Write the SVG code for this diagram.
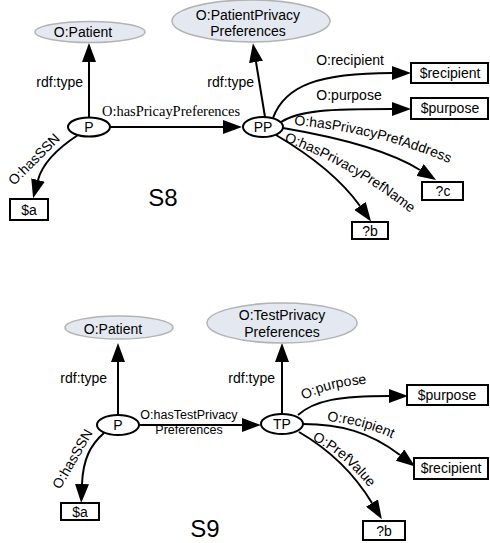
<svg xmlns="http://www.w3.org/2000/svg" width="490" height="543" viewBox="0 0 490 543">
<defs>
<marker id="arr" markerUnits="userSpaceOnUse" markerWidth="19" markerHeight="14" refX="0" refY="7" orient="auto" viewBox="0 0 19 14">
<path d="M0,0 L19,7 L0,14 z" fill="#000"/>
</marker>
<path id="tpAddr" d="M 294 125 Q 380 132 458 167"/>
<path id="tpName" d="M 284 141 Q 355 168 413 215"/>
<path id="tpPurp" d="M 304 400 Q 330 385 378 383"/>
<path id="tpRec" d="M 327 421 Q 365 424 402 443"/>
<path id="tpVal" d="M 312 440 Q 345 455 375 495"/>
</defs>
<style>
text{font-family:"Liberation Sans",Arial,sans-serif;font-size:14px;fill:#000}
.c{text-anchor:middle}
.e{text-anchor:end}
.cls{fill:#e4e9f1;stroke:#b3b3b3;stroke-width:1.5}
.res{fill:#fff;stroke:#000;stroke-width:2}
.box{fill:#fff;stroke:#000;stroke-width:2}
.edge{fill:none;stroke:#000;stroke-width:2;marker-end:url(#arr)}
.serif{font-family:"Liberation Serif","Times New Roman",serif}
.big{font-size:24px}
.sm{font-size:12.5px}
</style>
<rect width="490" height="543" fill="#fff"/>

<g id="connectors">
<path class="edge" d="M 89 117 L 89 62"/>
<path class="edge" d="M 110 127 L 223 127"/>
<path class="edge" d="M 78 135 C 55 150 42 165 38 180"/>
<path class="edge" d="M 265 117 L 256 62"/>
<path class="edge" d="M 273 118 C 285 85 320 73 392 73"/>
<path class="edge" d="M 281 122 C 300 110 330 109 392 109"/>
<path class="edge" d="M 283 128 C 330 136 385 148 420 170"/>
<path class="edge" d="M 276 135 C 310 155 340 178 360 206"/>

<path class="edge" d="M 118 415 L 118 362"/>
<path class="edge" d="M 139 425 L 242 425"/>
<path class="edge" d="M 104 433 C 90 445 83 460 82 484"/>
<path class="edge" d="M 282 414 L 282 362"/>
<path class="edge" d="M 298 415 C 315 400 340 396 389 396"/>
<path class="edge" d="M 303 424 C 340 424 370 432 400 455"/>
<path class="edge" d="M 299 432 C 330 450 355 475 372 503"/>
</g>

<g id="edge-labels">
<text class="e" x="83" y="87">rdf:type</text>
<text class="serif" x="102" y="116" textLength="138" lengthAdjust="spacingAndGlyphs">O:hasPricayPreferences</text>
<text x="14" y="186" transform="rotate(-45 14 186)">O:hasSSN</text>
<text class="e" x="254" y="87">rdf:type</text>
<text class="c" x="350" y="65">O:recipient</text>
<text class="c" x="349" y="100">O:purpose</text>
<text><textPath href="#tpAddr">O:hasPrivacyPrefAddress</textPath></text>
<text><textPath href="#tpName">O:hasPrivacyPrefName</textPath></text>

<text class="e" x="107" y="383">rdf:type</text>
<text class="c sm" x="189" y="419">O:hasTestPrivacy</text>
<text class="c sm" x="189" y="434">Preferences</text>
<text x="60" y="490" transform="rotate(-60 60 490)">O:hasSSN</text>
<text class="e" x="275" y="383">rdf:type</text>
<text><textPath href="#tpPurp">O:purpose</textPath></text>
<text><textPath href="#tpRec">O:recipient</textPath></text>
<text><textPath href="#tpVal">O:PrefValue</textPath></text>
</g>

<g id="s8-patient-class">
<ellipse class="cls" cx="90" cy="32" rx="55" ry="10.5"/>
<text class="c" x="83" y="37">O:Patient</text>
</g>
<g id="s8-ppp-class">
<ellipse class="cls" cx="251" cy="21" rx="79" ry="21"/>
<text class="c" x="248" y="20">O:PatientPrivacy</text>
<text class="c" x="248" y="36">Preferences</text>
</g>
<g id="s8-P">
<ellipse class="res" cx="89" cy="127" rx="21" ry="9.5"/>
<text class="c" x="89" y="132">P</text>
</g>
<g id="s8-PP">
<ellipse class="res" cx="263" cy="127" rx="20" ry="10"/>
<text class="c" x="263" y="132">PP</text>
</g>
<g id="s8-a">
<rect class="box" x="10" y="199" width="38" height="21"/>
<text class="c" x="29" y="215">$a</text>
</g>
<g id="s8-recipient">
<rect class="box" x="411" y="63" width="77" height="20"/>
<text class="c" x="450" y="78">$recipient</text>
</g>
<g id="s8-purpose">
<rect class="box" x="411" y="98" width="77" height="21"/>
<text class="c" x="450" y="113">$purpose</text>
</g>
<g id="s8-c">
<rect class="box" x="422" y="182" width="41" height="18"/>
<text class="c" x="443" y="196">?c</text>
</g>
<g id="s8-b">
<rect class="box" x="352" y="222" width="36" height="17"/>
<text class="c" x="370" y="236">?b</text>
</g>
<g id="s8-title">
<text class="c big" x="163" y="206">S8</text>
</g>

<g id="s9-patient-class">
<ellipse class="cls" cx="119" cy="327.5" rx="54" ry="11.5"/>
<text class="c" x="113" y="334">O:Patient</text>
</g>
<g id="s9-tpp-class">
<ellipse class="cls" cx="282" cy="323" rx="75" ry="20"/>
<text class="c" x="282" y="320">O:TestPrivacy</text>
<text class="c" x="282" y="337">Preferences</text>
</g>
<g id="s9-P">
<ellipse class="res" cx="118" cy="425" rx="21" ry="10"/>
<text class="c" x="118" y="430">P</text>
</g>
<g id="s9-TP">
<ellipse class="res" cx="282" cy="424" rx="21" ry="10"/>
<text class="c" x="282" y="429">TP</text>
</g>
<g id="s9-a">
<rect class="box" x="61" y="503" width="38" height="17"/>
<text class="c" x="80" y="517">$a</text>
</g>
<g id="s9-purpose">
<rect class="box" x="407" y="385" width="81" height="20"/>
<text class="c" x="447" y="400">$purpose</text>
</g>
<g id="s9-recipient">
<rect class="box" x="414" y="458" width="74" height="21"/>
<text class="c" x="451" y="473">$recipient</text>
</g>
<g id="s9-b">
<rect class="box" x="363" y="521" width="42" height="19"/>
<text class="c" x="384" y="536">?b</text>
</g>
<g id="s9-title">
<text class="c big" x="205" y="537">S9</text>
</g>
</svg>
